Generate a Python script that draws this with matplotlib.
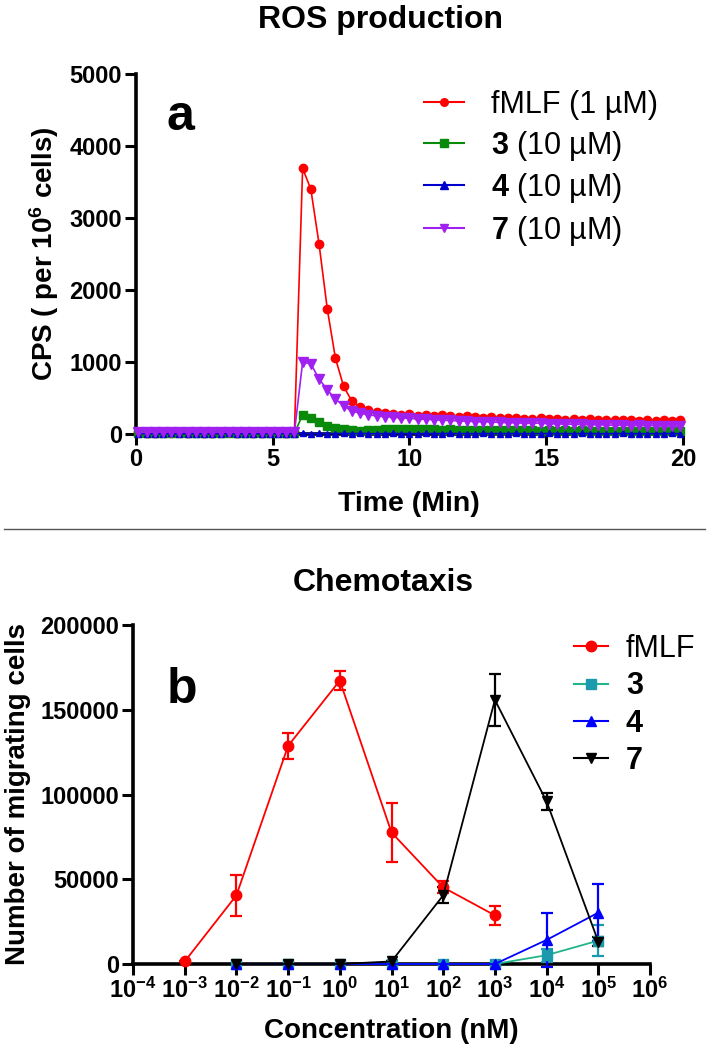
import numpy as np
import matplotlib

matplotlib.use("Agg")
import matplotlib.pyplot as plt
from matplotlib.lines import Line2D
from matplotlib.ticker import NullLocator

plt.rcParams["font.family"] = ["Liberation Sans", "DejaVu Sans"]
plt.rcParams["font.weight"] = "bold"
plt.rcParams["mathtext.fontset"] = "custom"
plt.rcParams["mathtext.rm"] = "Liberation Sans"
plt.rcParams["mathtext.bf"] = "Liberation Sans:bold"
plt.rcParams["mathtext.it"] = "Liberation Sans:italic"

# ---- panel a: ROS production (CPS per 10^6 cells), one read every 0.3 min
time_min = np.round(0.1 + 0.3 * np.arange(67), 2)

ros_fmlf = [22, 18, 20, 25, 19, 21, 17, 23, 20, 18, 24, 21, 19, 22, 20, 18, 23, 21, 19, 24,
            3690, 3400, 2640, 1740, 1050, 660, 455, 370, 335, 305, 290, 282, 265, 275, 255,
            262, 250, 258, 245, 240, 248, 232, 226, 235, 222, 218, 225, 214, 210, 218, 205,
            208, 200, 204, 196, 214, 198, 192, 200, 188, 194, 186, 190, 183, 196, 184, 188]
ros_3 = [12, 15, 10, 14, 13, 11, 16, 12, 14, 10, 13, 15, 11, 14, 12, 13, 15, 10, 14, 12,
         265, 218, 160, 110, 85, 65, 52, 48, 55, 62, 70, 66, 72, 68, 64, 70, 66, 60, 64,
         58, 62, 56, 60, 54, 58, 52, 56, 50, 54, 48, 52, 47, 50, 46, 50, 45, 48, 44, 47,
         43, 46, 42, 45, 41, 44, 42, 43]
ros_4 = [4, 6, 3, 5, 7, 4, 5, 3, 6, 5, 4, 7, 5, 3, 6, 4, 5, 6, 4, 5,
         8, 6, 7, 5, 6, 8, 5, 7, 6, 4, 6, 7, 5, 6, 4, 7, 5, 6, 8, 5, 6, 4, 7, 5, 6,
         5, 7, 4, 6, 5, 7, 6, 4, 5, 7, 6, 5, 4, 6, 7, 5, 6, 4, 5, 6, 7, 5]
ros_7 = [25, 22, 27, 24, 26, 23, 25, 28, 24, 22, 26, 25, 23, 27, 24, 26, 22, 25, 28, 24,
         1000, 975, 765, 614, 486, 389, 320, 288, 268, 250, 240, 236, 225, 218, 210, 205,
         198, 192, 188, 182, 178, 172, 168, 170, 160, 158, 155, 150, 148, 152, 140, 142,
         135, 138, 132, 128, 130, 125, 122, 126, 118, 120, 115, 118, 112, 114, 108]

ros_labels = ["fMLF (1 µM)", r"$\mathbf{3}$ (10 µM)", r"$\mathbf{4}$ (10 µM)", r"$\mathbf{7}$ (10 µM)"]

# ---- panel b: chemotaxis (number of migrating cells), mean and error
conc_fmlf = [1e-3, 1e-2, 1e-1, 1e0, 1e1, 1e2, 1e3]
mig_fmlf = [1500, 40500, 128700, 167200, 77600, 45200, 28700]
err_fmlf = [0, 12300, 7800, 5800, 17200, 3600, 5600]

conc_cpd = [1e-2, 1e-1, 1e0, 1e1, 1e2, 1e3, 1e4, 1e5]
mig_3 = [0, 0, 0, 0, 0, 0, 5200, 13800]
err_3 = [0, 0, 0, 0, 0, 0, 3800, 9300]
mig_4 = [0, 0, 0, 0, 0, 0, 14200, 30300]
err_4 = [0, 0, 0, 0, 0, 0, 16100, 16900]
mig_7 = [0, 0, 0, 1500, 40500, 155800, 95900, 13200]
err_7 = [0, 0, 0, 0, 4800, 15300, 5000, 2500]

conc_ticks = [10.0 ** k for k in range(-4, 7)]
conc_ticklabels = [r"$\mathbf{10^{%d}}$" % k for k in range(-4, 7)]

W, H = 709, 1050


def fx(px):
    return px / W


def fy(py):
    return 1 - py / H


def style_axes(ax):
    for side in ("top", "right"):
        ax.spines[side].set_visible(False)
    for side in ("left", "bottom"):
        ax.spines[side].set_linewidth(2.6)
    ax.tick_params(length=8, width=2.2, labelsize=17, pad=2)


fig = plt.figure(figsize=(W / 100, H / 100), dpi=100)

# ---------------- panel a
ax_a = fig.add_axes([fx(135.7), fy(434), fx(683) - fx(135.7), (434 - 74) / H])
style_axes(ax_a)
series_a = [
    (ros_fmlf, "#ff0000", "o", 6.0),
    (ros_3, "#0a8a0a", "s", 5.5),
    (ros_4, "#0000cc", "^", 5.0),
    (ros_7, "#a020f0", "v", 6.5),
]
handles_a = []
for vals, col, mk, ms in series_a:
    ax_a.plot(time_min, vals, color=col, lw=1.2, marker=mk, ms=ms, mec=col, mfc=col,
              clip_on=False, zorder=3)
    handles_a.append(Line2D([], [], color=col, lw=1.5, marker=mk, ms=5.5, mec=col, mfc=col))
ax_a.set_xlim(0, 20)
ax_a.set_ylim(0, 5000)
ax_a.set_xticks([0, 5, 10, 15, 20])
ax_a.set_yticks([0, 1000, 2000, 3000, 4000, 5000])
leg_a = ax_a.legend(handles_a, ros_labels, loc="upper left", frameon=False,
                    bbox_to_anchor=(fx(424), fy(90)), bbox_transform=fig.transFigure,
                    borderaxespad=0, borderpad=0, fontsize=22, handlelength=1.3,
                    handletextpad=0.9, labelspacing=0.28)
for t in leg_a.get_texts():
    t.set_fontweight("normal")
fig.text(fx(167), fy(130), "a", fontsize=36, fontweight="bold", ha="left", va="baseline")

fig.text(fx(380), fy(20), "ROS production", fontsize=23, fontweight="bold", ha="center", va="center")
fig.text(fx(409), fy(504), "Time (Min)", fontsize=20.5, fontweight="bold", ha="center", va="center")
fig.text(fx(44), fy(254), r"CPS ( per 10$^{\mathbf{6}}$ cells)", fontsize=20, fontweight="bold",
         rotation=90, ha="center", va="center")

# separator between the two panels
fig.add_artist(Line2D([fx(4), fx(705)], [fy(529), fy(529)], color="#555555", lw=1.0))

# ---------------- panel b
ax_b = fig.add_axes([fx(133), fy(964), fx(650) - fx(133), (964 - 625) / H])
style_axes(ax_b)
ax_b.set_xscale("log")
ax_b.set_xlim(1e-4, 1e6)
ax_b.set_ylim(0, 200000)
ax_b.set_xticks(conc_ticks)
ax_b.set_xticklabels(conc_ticklabels)
ax_b.xaxis.set_minor_locator(NullLocator())
ax_b.set_yticks([0, 50000, 100000, 150000, 200000])
ax_b.set_yticklabels(["0", "50000", "100000", "150000", "200000"])

series_b = [
    (conc_fmlf, mig_fmlf, err_fmlf, "#ff0000", "#ff0000", "o", 7.5),
    (conc_cpd, mig_3, err_3, "#22b58c", "#1a9aac", "s", 7.0),
    (conc_cpd, mig_4, err_4, "#0000ff", "#0000ff", "^", 7.5),
    (conc_cpd, mig_7, err_7, "#000000", "#000000", "v", 7.5),
]
handles_b = []
for xs, ys, es, lcol, mcol, mk, ms in series_b:
    ax_b.errorbar(xs, ys, yerr=es, color=lcol, ecolor=mcol, mfc=mcol, mec=mcol, marker=mk,
                  ms=ms, lw=1.3, elinewidth=1.6, capsize=4, capthick=1.6, clip_on=False,
                  zorder=3)
    handles_b.append(Line2D([], [], color=lcol, lw=1.5, marker=mk, ms=7.5, mec=mcol, mfc=mcol))
leg_b = ax_b.legend(handles_b, ["fMLF", "3", "4", "7"], loc="upper left", frameon=False,
                    bbox_to_anchor=(fx(574), fy(634)), bbox_transform=fig.transFigure,
                    borderaxespad=0, borderpad=0, fontsize=22, handlelength=1.1,
                    handletextpad=0.6, labelspacing=0.24)
leg_b.get_texts()[0].set_fontweight("normal")
fig.text(fx(167), fy(703), "b", fontsize=36, fontweight="bold", ha="left", va="baseline")

fig.text(fx(383), fy(583), "Chemotaxis", fontsize=23, fontweight="bold", ha="center", va="center")
fig.text(fx(391), fy(1031), "Concentration (nM)", fontsize=20, fontweight="bold", ha="center", va="center")
fig.text(fx(18), fy(794), "Number of migrating cells", fontsize=20, fontweight="bold",
         rotation=90, ha="center", va="center")

fig.savefig("out.png", dpi=100)
